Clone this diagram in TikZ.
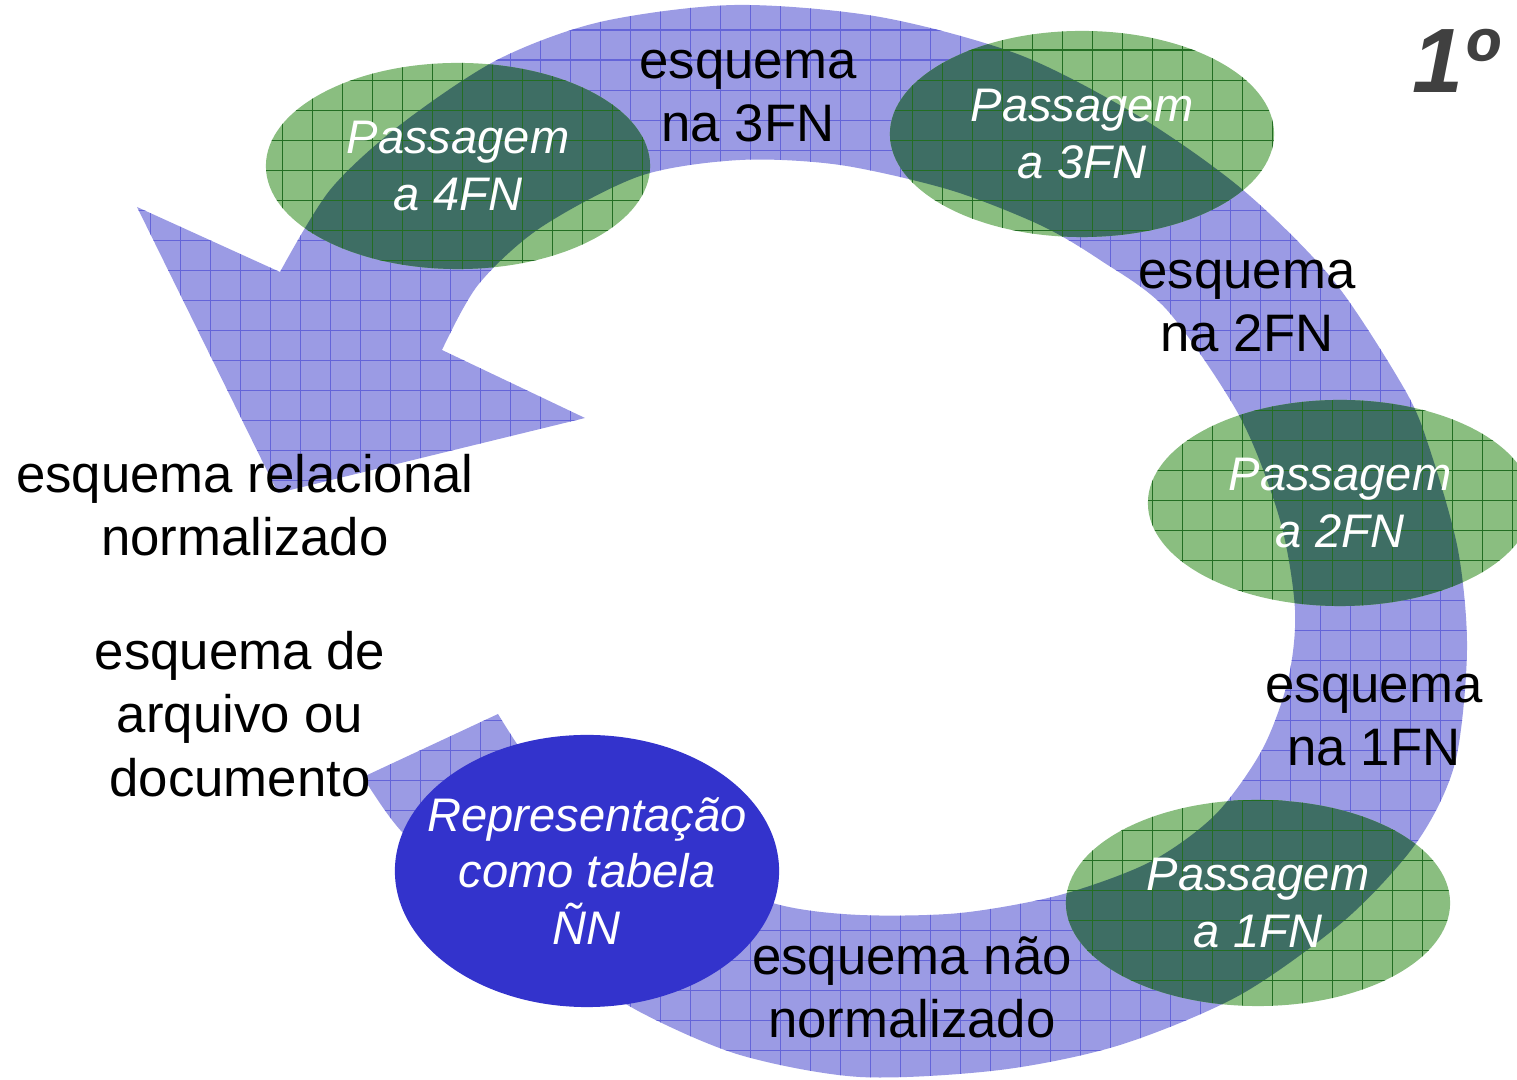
\documentclass[tikz,border=0pt]{standalone}
\usepackage{fontspec}
\setmainfont{Liberation Sans}
\usetikzlibrary{shapes.geometric}
\definecolor{anelazul}{RGB}{155,155,228}
\definecolor{gradeazul}{RGB}{100,100,216}
\definecolor{verdeclaro}{RGB}{138,190,128}
\definecolor{verdeescuro}{RGB}{62,110,100}
\definecolor{gradeverde}{RGB}{35,110,35}
\definecolor{azulrep}{RGB}{51,51,204}
\definecolor{cinza}{RGB}{64,64,64}
\pgfdeclarelayer{fundo}
\pgfsetlayers{fundo,main}
\tikzset{
    esquema/.style={align=center,font=\fontsize{15}{18}\selectfont},
    passagem/.style={ellipse,minimum width=3.84cm,minimum height=2.06cm,inner sep=0pt,
        align=center,text=white,font=\fontsize{13.4}{16}\selectfont\itshape},
    gradeA/.style={step=0.3cm,draw=gradeazul,line width=0.3pt},
    gradeV/.style={step=0.3cm,draw=gradeverde,line width=0.3pt}
}
\newcommand{\anel}{plot[smooth] coordinates {(363,777) (403,833) (480,897) (560,960)
        (640,1012) (740,1055) (860,1077) (1000,1070) (1120,1045) (1240,995) (1345,920)
        (1417,842) (1455,763) (1467,650) (1458,550) (1430,450) (1405,390) (1333,280)
        (1243,190) (1140,117) (1020,55) (880,17) (735,5) (600,22) (497,60) (400,125)
        (330,190) (280,272)}
    -- (137,207) -- (278,493) -- (585,418)
    -- plot[smooth] coordinates {(442,350) (478,285) (540,228) (640,176)
        (740,160) (840,165) (950,190) (1040,225) (1100,260) (1167,310) (1240,417)
        (1280,520) (1295,610) (1288,680) (1262,750) (1215,815) (1150,862) (1060,895)
        (960,913) (860,915) (780,905) (690,872) (600,820) (540,775) (498,714)}
    -- cycle}

\begin{document}
\begin{tikzpicture}[x=0.01cm,y=-0.01cm]
        \useasboundingbox (0,0) rectangle (1517,1080);
        \node[passagem] (p4) at (458,166) {Passagem\\a 4FN};
        \node[passagem] (p3) at (1082,134) {Passagem\\a 3FN};
        \node[passagem] (p2) at (1340,503) {Passagem\\a 2FN};
        \node[passagem] (p1) at (1258,903) {Passagem\\a 1FN};
        \node[passagem,minimum height=2.72cm] (rep) at (587,871) {Representação\\como tabela\\ÑN};
        \node[esquema] (e3) at (748,96) {esquema\\na 3FN};
        \node[esquema] (e2) at (1247,306) {esquema\\na 2FN};
        \node[esquema] (e1) at (1374,720) {esquema\\na 1FN};
        \node[esquema] (enn) at (912,987) {esquema não\\normalizado};
        \node[esquema] (erel) at (245,505) {esquema relacional\\normalizado};
        \node[esquema] (earq) at (240,714) {esquema de\\arquivo ou\\documento};
        \node[text=cinza,font=\fontsize{26}{30}\selectfont\bfseries\itshape] (passo) at (1455,61) {1º};
        \begin{pgfonlayer}{fundo}
            \fill[anelazul] \anel;
            \begin{scope}
                \clip \anel;
                \draw[gradeA] (0,1080) grid (1517,0);
            \end{scope}
            \foreach \p in {p1,p2,p3,p4}{
                \fill[verdeclaro] (\p.center) ellipse [x radius=1.92cm,y radius=1.03cm];
                \begin{scope}
                    \clip \anel;
                    \fill[verdeescuro] (\p.center) ellipse [x radius=1.92cm,y radius=1.03cm];
                \end{scope}
                \begin{scope}
                    \clip (\p.center) ellipse [x radius=1.92cm,y radius=1.03cm];
                    \draw[gradeV,xshift=0.12cm,yshift=0.1cm] (0,1080) grid (1517,0);
                \end{scope}
            }
            \fill[azulrep] (rep.center) ellipse [x radius=1.92cm,y radius=1.36cm];
        \end{pgfonlayer}
\end{tikzpicture}
\end{document}
